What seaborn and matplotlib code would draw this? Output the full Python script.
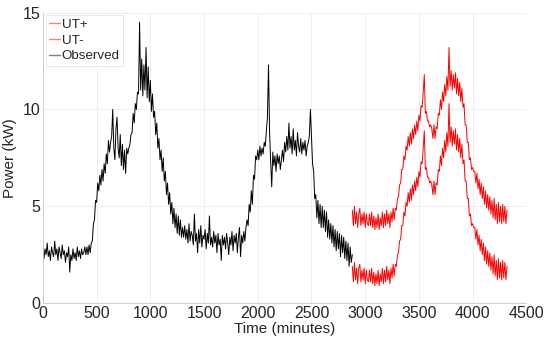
import numpy as np
import pandas as pd
import matplotlib
matplotlib.use('Agg')
import matplotlib.pyplot as plt
import seaborn as sns

# observed power (kW), one value every 10 minutes, 0..2880
observed = [
    2.9, 2.3, 2.8, 2.5, 3.1, 2.4, 2.7, 2.2, 2.9, 2.6,
    2.4, 3.2, 2.5, 2.8, 2.2, 2.9, 2.6, 2.3, 3.0, 2.5,
    2.7, 2.1, 2.6, 2.4, 2.9, 1.6, 2.5, 2.2, 2.8, 2.3,
    2.6, 2.2, 2.9, 2.4, 2.7, 2.3, 2.8, 2.5, 2.6, 2.9,
    2.5, 2.9, 2.5, 3.0, 2.6, 3.1, 3.2, 4.1, 4.3, 5.3,
    5.2, 6.2, 5.8, 6.6, 6.1, 6.9, 6.3, 7.2, 6.7, 7.7,
    7.2, 8.4, 7.8, 8.3, 8.6, 10.0, 8.0, 7.4, 9.0, 9.6,
    8.0, 7.5, 8.7, 7.1, 8.2, 6.9, 7.9, 6.7, 8.0, 7.7,
    8.0, 8.2, 8.7, 8.8, 9.8, 9.3, 10.3, 10.0, 10.9, 10.8,
    14.5, 11.0, 12.6, 10.7, 12.3, 11.0, 13.2, 10.6, 12.2, 10.4,
    11.5, 9.9, 10.8, 9.6, 9.9, 8.7, 9.3, 8.0, 8.5, 7.4,
    7.9, 6.8, 7.5, 6.3, 6.8, 5.6, 6.2, 5.1, 5.7, 4.6,
    5.2, 4.1, 4.9, 3.9, 4.6, 3.6, 4.5, 3.5, 4.3, 3.4,
    3.9, 3.4, 4.0, 3.3, 3.8, 3.1, 4.1, 3.2, 3.7, 3.5,
    3.0, 4.6, 3.2, 3.6, 2.6, 3.8, 3.1, 4.0, 2.9, 3.5,
    3.3, 3.8, 2.8, 3.6, 3.1, 4.5, 3.0, 3.4, 2.9, 3.7,
    3.1, 3.5, 2.6, 3.6, 3.0, 3.3, 2.2, 3.5, 3.0, 3.4,
    2.8, 3.6, 3.1, 2.5, 3.4, 3.0, 3.7, 2.7, 3.5, 3.1,
    3.6, 2.6, 3.4, 3.9, 2.4, 3.5, 3.1, 3.7, 3.2, 3.9,
    4.3, 4.0, 5.1, 4.7, 5.8, 5.1, 6.6, 6.4, 7.6, 7.4,
    7.9, 7.4, 8.1, 7.6, 8.0, 7.7, 8.3, 8.1, 8.9, 9.6,
    12.3, 8.8, 7.3, 6.0, 7.8, 7.1, 7.6, 6.8, 7.7, 7.2,
    7.6, 6.9, 7.4, 7.9, 7.3, 8.3, 7.8, 8.6, 7.9, 9.3,
    8.0, 8.6, 7.7, 9.0, 7.9, 8.4, 7.6, 8.8, 8.1, 7.8,
    8.5, 7.7, 8.3, 7.9, 8.4, 7.6, 8.1, 8.3, 8.6, 10.0,
    8.6, 7.2, 6.8, 5.4, 5.6, 4.4, 5.3, 4.1, 5.1, 3.9,
    5.0, 3.9, 4.8, 3.7, 4.7, 3.4, 4.3, 3.3, 4.1, 3.1,
    4.0, 2.9, 3.8, 2.7, 3.7, 2.8, 3.6, 2.4, 3.5, 2.6,
    3.4, 2.3, 3.2, 2.2, 3.1, 1.9, 2.9, 2.1, 2.5,
]

# upper / lower uncertainty bounds, every 10 minutes, 2880..4320
ut_plus = [
    4.8, 4.0, 5.0, 4.1, 4.7, 3.9, 4.6, 4.9, 4.0, 4.6,
    4.1, 4.7, 3.9, 4.6, 4.1, 4.0, 4.6, 4.0, 4.7, 3.9,
    4.5, 3.8, 4.4, 3.9, 4.6, 3.8, 4.4, 4.0, 4.7, 3.9,
    4.6, 4.0, 4.8, 4.1, 4.6, 3.9, 4.7, 4.2, 4.9, 4.3,
    4.9, 4.8, 5.4, 5.5, 6.1, 6.2, 6.9, 6.9, 7.6, 7.4,
    8.1, 7.9, 8.6, 8.1, 8.8, 8.2, 9.0, 8.5, 9.2, 8.7,
    9.4, 8.9, 9.7, 9.4, 10.2, 10.1, 10.9, 11.8, 9.8, 9.9,
    9.4, 9.4, 9.1, 9.2, 9.0, 8.5, 9.2, 8.5, 9.1, 9.0,
    9.8, 9.7, 10.5, 10.0, 10.9, 10.4, 11.3, 10.7, 11.7, 11.0,
    13.2, 11.2, 12.0, 11.0, 11.8, 11.1, 11.9, 10.8, 11.6, 10.7,
    11.4, 10.4, 11.1, 10.1, 10.3, 9.2, 9.2, 8.3, 8.3, 7.4,
    7.5, 6.9, 7.0, 6.8, 6.8, 6.2, 6.7, 5.9, 6.4, 5.6,
    6.2, 5.4, 6.0, 5.1, 5.8, 4.9, 5.6, 4.8, 5.5, 4.6,
    5.3, 4.4, 5.4, 4.3, 5.1, 4.1, 5.2, 4.2, 5.0, 4.1,
    5.1, 4.2, 5.0, 4.1, 4.8,
]
ut_minus = [
    1.9, 1.1, 2.1, 1.2, 1.8, 1.0, 1.8, 2.0, 1.1, 1.7,
    1.2, 1.8, 1.0, 1.7, 1.2, 1.1, 1.7, 1.1, 1.8, 1.0,
    1.6, 0.9, 1.5, 1.0, 1.7, 0.9, 1.5, 1.1, 1.8, 1.0,
    1.7, 1.1, 1.9, 1.2, 1.7, 1.0, 1.8, 1.3, 2.0, 1.4,
    2.0, 1.9, 2.5, 2.6, 3.2, 3.3, 4.0, 4.0, 4.7, 4.5,
    5.2, 5.0, 5.7, 5.2, 5.9, 5.3, 6.1, 5.6, 6.3, 5.8,
    6.5, 6.0, 6.8, 6.5, 7.3, 7.2, 8.0, 8.9, 6.9, 7.0,
    6.5, 6.5, 6.2, 6.3, 6.1, 5.6, 6.3, 5.6, 6.2, 6.1,
    6.9, 6.8, 7.6, 7.1, 8.0, 7.5, 8.4, 7.8, 8.8, 8.1,
    10.3, 8.3, 9.1, 8.1, 8.9, 8.2, 9.0, 7.9, 8.7, 7.8,
    8.5, 7.5, 8.2, 7.2, 7.4, 6.3, 6.3, 5.4, 5.4, 4.5,
    4.6, 4.0, 4.1, 3.9, 3.9, 3.3, 3.8, 3.0, 3.5, 2.7,
    3.3, 2.5, 3.1, 2.2, 2.9, 2.0, 2.7, 1.9, 2.6, 1.7,
    2.4, 1.5, 2.5, 1.4, 2.2, 1.2, 2.3, 1.3, 2.1, 1.2,
    2.2, 1.3, 2.1, 1.2, 1.9,
]

t_obs = np.arange(0, 2881, 10)
t_ut = np.arange(2880, 4321, 10)

sns.set_theme(style='whitegrid')
plt.rcParams['font.family'] = ['Liberation Sans', 'DejaVu Sans']

fig, ax = plt.subplots(figsize=(5.5, 3.5), dpi=100)
fig.subplots_adjust(left=0.078, right=0.957, bottom=0.134, top=0.964)

sns.lineplot(x=t_ut, y=ut_plus, ax=ax, color='#ff0000', linewidth=0.7, label='UT+')
sns.lineplot(x=t_ut, y=ut_minus, ax=ax, color='#ff0000', linewidth=0.7, label='UT-')
sns.lineplot(x=t_obs, y=observed, ax=ax, color='black', linewidth=0.7, label='Observed')

ax.set_xlim(0, 4500)
ax.set_ylim(0, 15)
ax.set_xticks(np.arange(0, 4501, 500))
ax.set_yticks([0, 5, 10, 15])
ax.set_xlabel('Time (minutes)', fontsize=11, labelpad=1)
ax.set_ylabel('Power (kW)', fontsize=11, labelpad=4)
ax.tick_params(axis='both', labelsize=11.5, direction='in', length=3, width=0.6,
               color='#b0b0b0', labelcolor='#262626', pad=2)
ax.grid(True, color='#ececec', linewidth=0.6)
for side in ['top', 'right']:
    ax.spines[side].set_visible(False)
for side in ['left', 'bottom']:
    ax.spines[side].set_color('#c8c8c8')
    ax.spines[side].set_linewidth(0.6)

leg = ax.legend(loc='upper left', fontsize=9.6, frameon=True, fancybox=False,
                handlelength=0.8, handletextpad=0.15, borderpad=0.25,
                labelspacing=0.25, borderaxespad=0.2)
leg.get_frame().set_edgecolor('#dddddd')
leg.get_frame().set_linewidth(0.6)
for h in leg.get_lines():
    h.set_alpha(0.5)
    h.set_linewidth(1.0)

fig.savefig('out.png', dpi=100)
